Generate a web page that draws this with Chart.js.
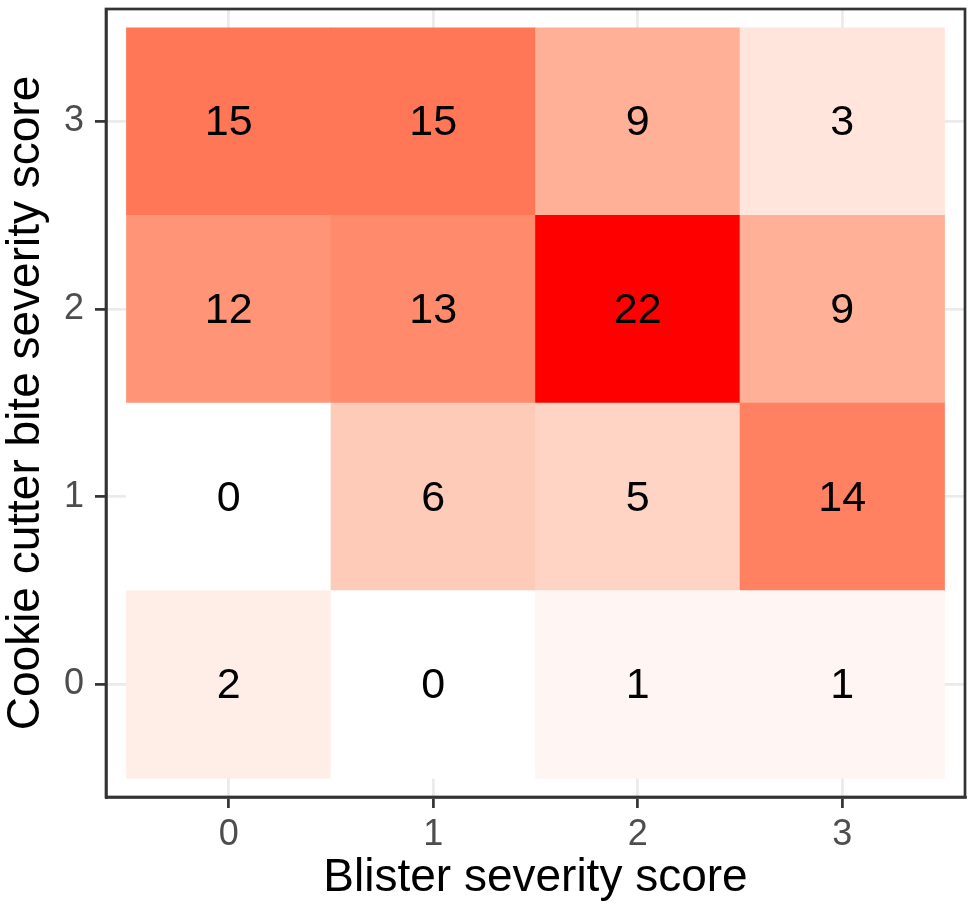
<!DOCTYPE html>
<html>
<head>
<meta charset="utf-8">
<title>Cookie cutter bite vs blister severity</title>
<script src="https://cdn.jsdelivr.net/npm/chart.js@4/dist/chart.umd.min.js"></script>
<style>
    html, body { margin: 0; padding: 0; background: #fff; }
    #heatmap { display: block; }
</style>
</head>
<body>
<canvas id="heatmap" width="973" height="917"></canvas>
<script>
// Blister score on x, cookie cutter bite score on y
const blisterScores = [0, 1, 2, 3];
const biteScores = [0, 1, 2, 3];

// counts per bite score row, columns follow blisterScores
const countsBite0 = [2, 0, 1, 1];
const countsBite1 = [0, 6, 5, 14];
const countsBite2 = [12, 13, 22, 9];
const countsBite3 = [15, 15, 9, 3];
const countRows = [countsBite0, countsBite1, countsBite2, countsBite3];

const xTitle = 'Blister severity score';
const yTitle = 'Cookie cutter bite severity score';

const FONT = "'Liberation Sans', Arial, sans-serif";

// white -> red gradient in Lab space (like ggplot's scale_fill_gradient)
function srgbToLinear(c) {
    c = c / 255;
    return c <= 0.04045 ? c / 12.92 : Math.pow((c + 0.055) / 1.055, 2.4);
}
function linearToSrgb(c) {
    c = Math.max(0, Math.min(1, c));
    const v = c <= 0.0031308 ? 12.92 * c : 1.055 * Math.pow(c, 1 / 2.4) - 0.055;
    return Math.round(v * 255);
}
function toLab(rgb) {
    const r = srgbToLinear(rgb[0]), g = srgbToLinear(rgb[1]), b = srgbToLinear(rgb[2]);
    const X = (0.4124 * r + 0.3576 * g + 0.1805 * b) / 0.95047;
    const Y = 0.2126 * r + 0.7152 * g + 0.0722 * b;
    const Z = (0.0193 * r + 0.1192 * g + 0.9505 * b) / 1.08883;
    const f = t => t > 0.008856 ? Math.cbrt(t) : 7.787 * t + 16 / 116;
    return [116 * f(Y) - 16, 500 * (f(X) - f(Y)), 200 * (f(Y) - f(Z))];
}
function fromLab(lab) {
    const fy = (lab[0] + 16) / 116;
    const fx = fy + lab[1] / 500;
    const fz = fy - lab[2] / 200;
    const inv = t => t > 0.206893 ? t * t * t : (t - 16 / 116) / 7.787;
    const X = 0.95047 * inv(fx), Y = inv(fy), Z = 1.08883 * inv(fz);
    const r = 3.2406 * X - 1.5372 * Y - 0.4986 * Z;
    const g = -0.9689 * X + 1.8758 * Y + 0.0415 * Z;
    const b = 0.0557 * X - 0.2040 * Y + 1.0570 * Z;
    return `rgb(${linearToSrgb(r)}, ${linearToSrgb(g)}, ${linearToSrgb(b)})`;
}

const lowLab = toLab([255, 255, 255]);
const highLab = toLab([255, 0, 0]);
const allCounts = countRows.flat();
const minCount = Math.min(...allCounts);
const maxCount = Math.max(...allCounts);

function fillFor(v) {
    const t = (v - minCount) / (maxCount - minCount);
    return fromLab(lowLab.map((l, i) => l + (highLab[i] - l) * t));
}

// one floating-bar dataset per row, each bar spans one cell
const datasets = biteScores.map((bite, r) => ({
    label: 'bite ' + bite,
    data: blisterScores.map(b => ({ x: b, y: [bite - 0.5, bite + 0.5] })),
    counts: countRows[r],
    backgroundColor: countRows[r].map(fillFor),
    borderWidth: 0,
    barPercentage: 1,
    categoryPercentage: 1,
    grouped: false
}));

const cellLabels = {
    id: 'cellLabels',
    afterDatasetsDraw(chart) {
        const ctx = chart.ctx;
        ctx.save();
        ctx.font = `43px ${FONT}`;
        ctx.fillStyle = '#000000';
        ctx.textAlign = 'center';
        ctx.textBaseline = 'middle';
        chart.data.datasets.forEach((ds, i) => {
            chart.getDatasetMeta(i).data.forEach((bar, j) => {
                const c = bar.getCenterPoint();
                ctx.fillText(String(ds.counts[j]), c.x, c.y + 2);
            });
        });
        ctx.restore();
    }
};

// top and right sides of the panel box
const panelBorder = {
    id: 'panelBorder',
    afterDraw(chart) {
        const { ctx, chartArea: a } = chart;
        ctx.save();
        ctx.strokeStyle = '#333333';
        ctx.lineWidth = 2.7;
        ctx.strokeRect(a.left, a.top, a.right - a.left, a.bottom - a.top);
        ctx.restore();
    }
};

function axisOptions(ticks, title, isX) {
    return {
        type: 'linear',
        min: -0.6,
        max: 3.6,
        offset: false,
        afterBuildTicks: scale => { scale.ticks = ticks.map(v => ({ value: v })); },
        afterFit: scale => {
            // fixed axis box, no extra room for edge labels
            if (isX) scale.height = 120; else scale.width = 106;
            scale.paddingTop = 0;
            scale.paddingBottom = 0;
            scale.paddingLeft = 0;
            scale.paddingRight = 0;
        },
        ticks: {
            font: { family: FONT, size: 36 },
            color: '#4D4D4D',
            padding: isX ? 5 : 11,
            maxRotation: 0,
            autoSkip: false,
            callback: v => String(v)
        },
        grid: {
            offset: false,
            color: '#EBEBEB',
            lineWidth: 2.8,
            tickColor: '#333333',
            tickLength: 11,
            tickWidth: 2.7
        },
        border: { display: true, color: '#333333', width: 2.7 },
        title: {
            display: true,
            text: title,
            color: '#000000',
            font: { family: FONT, size: 46, lineHeight: 1.1 },
            padding: isX ? { top: 0, bottom: 13 } : { top: 1, bottom: 0 }
        }
    };
}

new Chart(document.getElementById('heatmap').getContext('2d'), {
    type: 'bar',
    data: { datasets: datasets },
    options: {
        responsive: false,
        animation: false,
        layout: { padding: { top: 9, right: 8, bottom: 0, left: 0 } },
        plugins: {
            legend: { display: false },
            tooltip: { enabled: false }
        },
        scales: {
            x: axisOptions(blisterScores, xTitle, true),
            y: axisOptions(biteScores, yTitle, false)
        }
    },
    plugins: [cellLabels, panelBorder]
});
</script>
</body>
</html>
